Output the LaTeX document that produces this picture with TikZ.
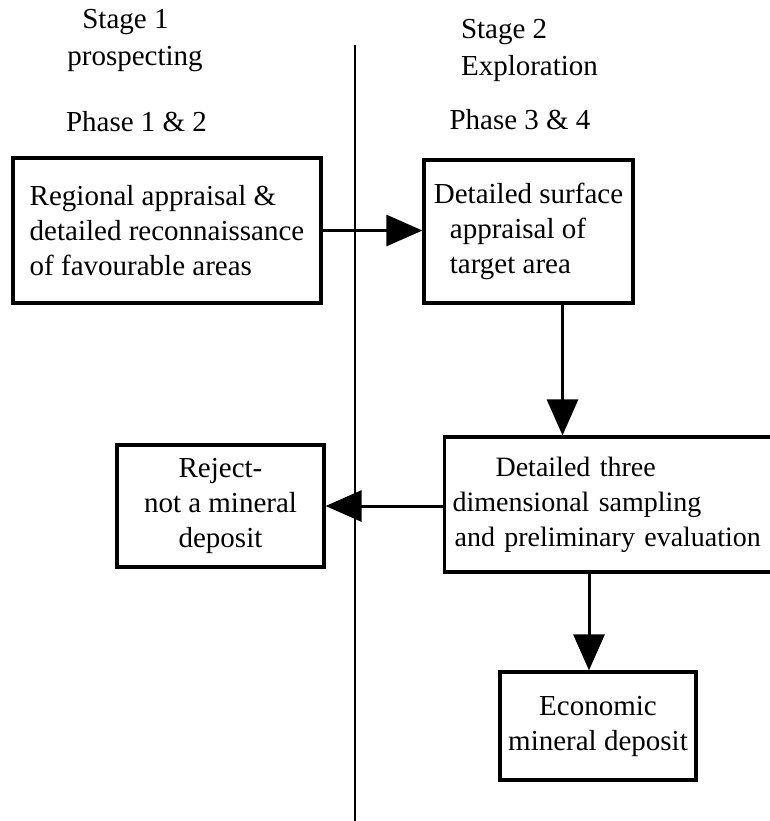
\documentclass[tikz,border=0pt]{standalone}
\usepackage{fontspec}
\setmainfont{Liberation Serif}
\usetikzlibrary{arrows.meta,calc}
\tikzset{
 flowbox/.style={draw,line width=1.6pt,inner sep=0pt,align=left,font=\fontsize{14.5}{17.5}\selectfont},
 flowarrow/.style={-{Triangle[length=18pt,width=15.5pt]},line width=1.5pt},
 stagelabel/.style={align=left,inner sep=0pt,font=\fontsize{14.5}{18.5}\selectfont}
}

\begin{document}
\begin{tikzpicture}[x=0.5pt,y=-0.5pt]
\useasboundingbox (0,0) rectangle (770,821);
% stage divider
\coordinate (divtop) at (355,45);\coordinate (divbot) at (355,821);
\draw[line width=0.7pt] (divtop)--(divbot);
% headings
\node[stagelabel] (stage1) at (135,41){\hspace*{7.5pt}Stage 1\\prospecting};
\node[stagelabel] (stage2) at (529.5,50.5){Stage 2\\Exploration};
\node[stagelabel] (phase12) at (136.5,122){Phase 1 \& 2};
\node[stagelabel] (phase34) at (520,120){Phase 3 \& 4};
% boxes
\node[flowbox,minimum width=154pt,minimum height=72.5pt] (regional) at (167,230.5){Regional appraisal \&\\detailed reconnaissance\\of favourable areas};
\node[flowbox,minimum width=104.5pt,minimum height=71.5pt] (surface) at (528.5,231.5){Detailed surface\\\hspace*{8pt}appraisal of\\\hspace*{8pt}target area};
\node[flowbox,anchor=west,inner xsep=4pt,text width=195pt,minimum height=67.5pt,font=\fontsize{14}{17.5}\selectfont] (sampling) at (443,504.5){\hspace*{21.5pt}Detailed three\\dimensional sampling\\\hspace*{1pt}and preliminary evaluation};
\node[flowbox,align=center,minimum width=103.5pt,minimum height=61pt] (reject) at (220.5,506){Reject-\\not a mineral\\deposit};
\node[flowbox,align=center,minimum width=98pt,minimum height=54pt] (economic) at (598,726){Economic\\mineral deposit};
% connectors
\draw[flowarrow] (regional.east) -- (regional.east -| surface.west);
\draw[flowarrow] ([xshift=17pt]surface.south) -- ([xshift=17pt]surface.south |- sampling.north);
\draw[flowarrow] (reject.east -| sampling.west) -- (reject.east);
\draw[flowarrow] ([xshift=-4.5pt]economic.north |- sampling.south) -- ([xshift=-4.5pt]economic.north);
\end{tikzpicture}
\end{document}
